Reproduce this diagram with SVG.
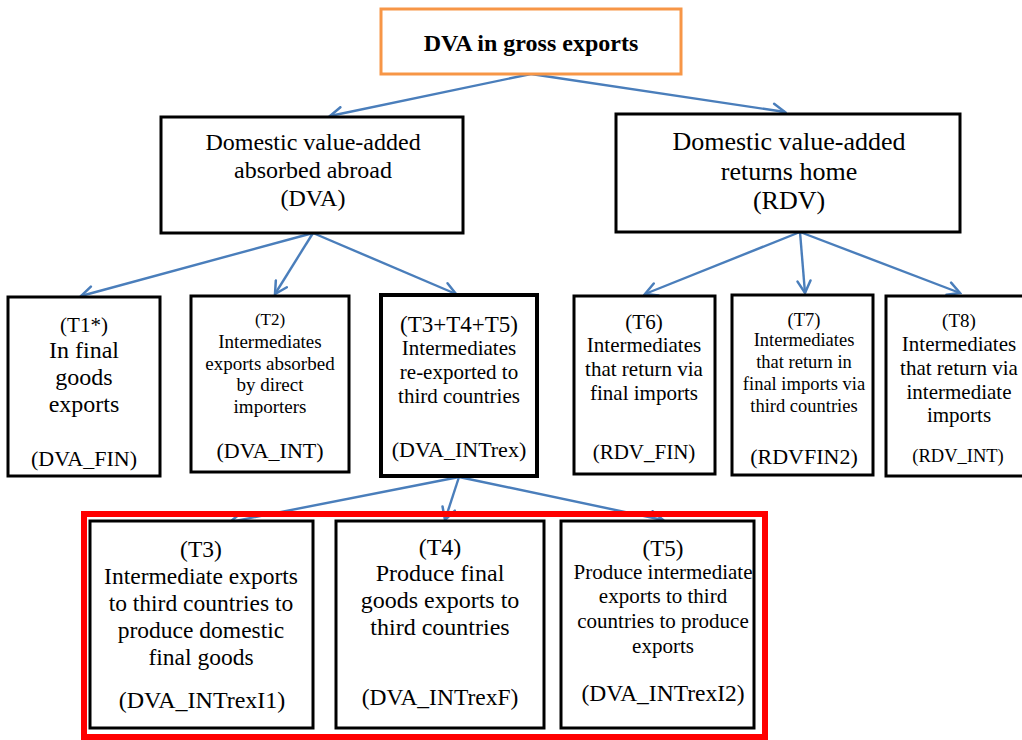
<svg xmlns="http://www.w3.org/2000/svg" width="1022" height="740" viewBox="0 0 1022 740">
<defs>
<marker id="ah" viewBox="0 0 16 16" refX="14" refY="8" markerWidth="16" markerHeight="16" markerUnits="userSpaceOnUse" orient="auto">
<path d="M2,1.5 L14,8 L2,14.5" fill="none" stroke="#4a7ebb" stroke-width="2.5" stroke-linecap="round"/>
</marker>
</defs>
<style>
.box{fill:#fff;stroke:#000;stroke-width:3}
.t{font-family:"Liberation Serif","Times New Roman",serif;text-anchor:middle;fill:#000}
.c{fill:none;stroke:#4a7ebb;stroke-width:2.4;marker-end:url(#ah)}
</style>
<rect width="1022" height="740" fill="#fff"/>
<g id="connectors">
<line class="c" x1="531" y1="74" x2="330" y2="116"/>
<line class="c" x1="531" y1="74" x2="785" y2="112"/>
<line class="c" x1="313" y1="233" x2="81" y2="296"/>
<line class="c" x1="313" y1="233" x2="275" y2="294"/>
<line class="c" x1="313" y1="233" x2="456" y2="294"/>
<line class="c" x1="800" y1="232" x2="645" y2="294"/>
<line class="c" x1="800" y1="232" x2="805" y2="293"/>
<line class="c" x1="800" y1="232" x2="960" y2="293"/>
<line class="c" x1="459" y1="477" x2="230" y2="522"/>
<line class="c" x1="459" y1="477" x2="445" y2="520"/>
<line class="c" x1="459" y1="477" x2="663" y2="520"/>
</g>
<g id="top">
<rect x="381" y="9" width="300" height="65" fill="#fff" stroke="#f79646" stroke-width="3"/>
<text class="t" x="531" y="51" font-size="24" font-weight="bold">DVA in gross exports</text>
</g>
<g id="dva">
<rect class="box" x="161" y="117" width="302" height="116"/>
<text class="t" font-size="24"><tspan x="313" y="150">Domestic value-added</tspan><tspan x="313" y="178">absorbed abroad</tspan><tspan x="313" y="206">(DVA)</tspan></text>
</g>
<g id="rdv">
<rect class="box" x="616" y="114" width="344" height="118"/>
<text class="t" font-size="26"><tspan x="789" y="150">Domestic value-added</tspan><tspan x="789" y="180">returns home</tspan><tspan x="789" y="209">(RDV)</tspan></text>
</g>
<g id="t1">
<rect class="box" x="8" y="297" width="152" height="179"/>
<text class="t" font-size="21" x="84" y="332">(T1*)</text>
<text class="t" font-size="24"><tspan x="84" y="358">In final</tspan><tspan x="84" y="385">goods</tspan><tspan x="84" y="412">exports</tspan></text>
<text class="t" font-size="22" x="84" y="466">(DVA_FIN)</text>
</g>
<g id="t2">
<rect class="box" x="191" y="296" width="158" height="176"/>
<text class="t" font-size="17" x="270" y="325">(T2)</text>
<text class="t" font-size="19"><tspan x="270" y="348">Intermediates</tspan><tspan x="270" y="370">exports absorbed</tspan><tspan x="270" y="391">by direct</tspan><tspan x="270" y="413">importers</tspan></text>
<text class="t" font-size="22" x="270" y="458">(DVA_INT)</text>
</g>
<g id="t345">
<rect x="381" y="295" width="156" height="181" fill="#fff" stroke="#000" stroke-width="4"/>
<text class="t" font-size="23" x="459" y="332">(T3+T4+T5)</text>
<text class="t" font-size="21"><tspan x="459" y="355">Intermediates</tspan><tspan x="459" y="379">re-exported to</tspan><tspan x="459" y="403">third countries</tspan></text>
<text class="t" font-size="22" x="459" y="457">(DVA_INTrex)</text>
</g>
<g id="t6">
<rect class="box" x="574" y="296" width="141" height="178"/>
<text class="t" font-size="21"><tspan x="644" y="329">(T6)</tspan><tspan x="644" y="352">Intermediates</tspan><tspan x="644" y="376">that return via</tspan><tspan x="644" y="400">final imports</tspan></text>
<text class="t" font-size="21" x="644" y="459">(RDV_FIN)</text>
</g>
<g id="t7">
<rect class="box" x="732" y="295" width="141" height="180"/>
<text class="t" font-size="18.5"><tspan x="804" y="326">(T7)</tspan><tspan x="804" y="346">Intermediates</tspan><tspan x="804" y="368">that return in</tspan><tspan x="804" y="390">final imports via</tspan><tspan x="804" y="412">third countries</tspan></text>
<text class="t" font-size="22" x="804" y="464">(RDVFIN2)</text>
</g>
<g id="t8">
<rect class="box" x="886" y="296" width="140" height="180"/>
<text class="t" font-size="19" x="959" y="327">(T8)</text>
<text class="t" font-size="21"><tspan x="959" y="351">Intermediates</tspan><tspan x="959" y="375">that return via</tspan><tspan x="959" y="399">intermediate</tspan><tspan x="959" y="422">imports</tspan></text>
<text class="t" font-size="18.5" x="958" y="462">(RDV_INT)</text>
</g>
<g id="group">
<rect x="84" y="514" width="681" height="223" fill="none" stroke="#ff0000" stroke-width="6"/>
</g>
<g id="t3">
<rect class="box" x="90" y="521" width="223" height="207"/>
<text class="t" font-size="23.5"><tspan x="201" y="557">(T3)</tspan><tspan x="201" y="584">Intermediate exports</tspan><tspan x="201" y="611">to third countries to</tspan><tspan x="201" y="638">produce domestic</tspan><tspan x="201" y="665">final goods</tspan></text>
<text class="t" font-size="24" x="202" y="708">(DVA_INTrexI1)</text>
</g>
<g id="t4">
<rect class="box" x="336" y="521" width="208" height="207"/>
<text class="t" font-size="24"><tspan x="440" y="555">(T4)</tspan><tspan x="440" y="581">Produce final</tspan><tspan x="440" y="608">goods exports to</tspan><tspan x="440" y="635">third countries</tspan></text>
<text class="t" font-size="23.5" x="440" y="705">(DVA_INTrexF)</text>
</g>
<g id="t5">
<rect class="box" x="561" y="521" width="193" height="207"/>
<text class="t" font-size="23" x="663" y="556">(T5)</text>
<text class="t" font-size="21"><tspan x="663" y="579">Produce intermediate</tspan><tspan x="663" y="603">exports to third</tspan><tspan x="663" y="628">countries to produce</tspan><tspan x="663" y="653">exports</tspan></text>
<text class="t" font-size="23.5" x="663" y="701">(DVA_INTrexI2)</text>
</g>
</svg>
